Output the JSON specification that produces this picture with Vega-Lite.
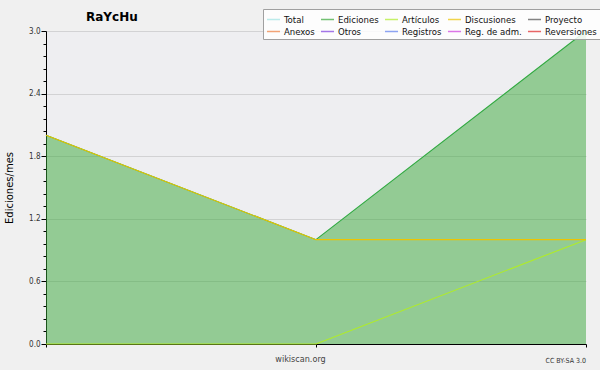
{
  "$schema": "https://vega.github.io/schema/vega-lite/v6.json",
  "autosize": "none",
  "width": 540,
  "height": 313,
  "padding": {"left": 46, "top": 31, "right": 14, "bottom": 26},
  "background": "#f0f0f0",
  "title": {"text": "RaYcHu", "anchor": "start", "frame": "group", "dx": 40, "offset": -15, "font": "DejaVu Sans", "fontSize": 12, "fontWeight": "bold", "color": "#000"},
  "config": {
    "view": {"fill": "#eeeef1", "stroke": null},
    "axis": {"labelFont": "DejaVu Sans Condensed", "titleFont": "DejaVu Sans", "domainColor": "#000", "tickColor": "#000", "labelColor": "#333", "gridColor": "#d2d2d4"},
    "legend": {"labelFont": "DejaVu Sans Condensed", "labelFontSize": 9.5, "labelColor": "#111"}
  },
  "data": {"values": [
    {"i": 0, "s": "Total", "v": 2}, {"i": 1, "s": "Total", "v": 1}, {"i": 2, "s": "Total", "v": 3},
    {"i": 0, "s": "Ediciones", "v": 2}, {"i": 1, "s": "Ediciones", "v": 1}, {"i": 2, "s": "Ediciones", "v": 3},
    {"i": 0, "s": "Artículos", "v": 0}, {"i": 1, "s": "Artículos", "v": 0}, {"i": 2, "s": "Artículos", "v": 1},
    {"i": 0, "s": "Discusiones", "v": 2}, {"i": 1, "s": "Discusiones", "v": 1}, {"i": 2, "s": "Discusiones", "v": 1}
  ]},
  "layer": [
    {
      "transform": [{"filter": "datum.s === 'Ediciones'"}],
      "mark": {"type": "area", "color": "#38a838", "opacity": 0.5},
      "encoding": {
        "x": {"field": "i", "type": "quantitative", "scale": {"domain": [0, 2], "nice": false},
          "axis": {"values": [0, 1, 2], "labels": false, "grid": false, "tickSize": 3, "title": "wikiscan.org", "titleFont": "DejaVu Sans Condensed", "titleFontSize": 9, "titleFontWeight": "normal", "titleColor": "#444", "titleX": 254, "titlePadding": 7}},
        "y": {"field": "v", "type": "quantitative", "scale": {"domain": [0, 3], "nice": false, "zero": true},
          "axis": {"values": [0, 0.6, 1.2, 1.8, 2.4, 3.0], "format": ".1f", "labelFontSize": 8, "tickSize": 5, "labelPadding": 1, "grid": true, "title": "Ediciones/mes", "titleFontSize": 10, "titleFontWeight": "normal", "titleColor": "#000", "titlePadding": 14}}
      }
    },
    {
      "mark": {"type": "line", "strokeWidth": 1.1},
      "encoding": {
        "x": {"field": "i", "type": "quantitative"},
        "y": {"field": "v", "type": "quantitative", "axis": null},
        "color": {"field": "s", "type": "nominal",
          "scale": {"domain": ["Total", "Ediciones", "Artículos", "Discusiones", "Proyecto", "Anexos", "Otros", "Registros", "Reg. de adm.", "Reversiones"],
            "range": ["#a0e4e4", "#3aa83a", "#b0ec28", "#ecc400", "#505050", "#f08040", "#8040e0", "#6080f0", "#d040e0", "#e02828"]},
          "legend": {"title": null, "orient": "none", "direction": "horizontal", "legendX": 217, "legendY": -22, "columns": 5, "symbolType": "stroke", "symbolSize": 169, "symbolStrokeWidth": 1.5, "symbolOpacity": 0.7, "labelOffset": 3, "columnPadding": 3, "rowPadding": 0, "padding": 3, "fillColor": "rgba(255,255,255,0.85)", "strokeColor": "#a0a0a0", "labelLimit": 200}}
      }
    },
    {
      "data": {"values": [{"t": "CC BY-SA 3.0"}]},
      "mark": {"type": "text", "align": "right", "baseline": "middle", "dy": 17, "fontSize": 7, "font": "DejaVu Sans Condensed", "color": "#333"},
      "encoding": {
        "text": {"field": "t"},
        "x": {"datum": 2, "type": "quantitative"},
        "y": {"datum": 0, "type": "quantitative",
          "axis": {"orient": "left", "values": [0.12, 0.24, 0.36, 0.48, 0.72, 0.84, 0.96, 1.08, 1.32, 1.44, 1.56, 1.68, 1.92, 2.04, 2.16, 2.28, 2.52, 2.64, 2.76, 2.88], "labels": false, "domain": false, "grid": false, "tickSize": 3, "title": null}}
      }
    }
  ],
  "resolve": {"axis": {"y": "independent"}}
}
